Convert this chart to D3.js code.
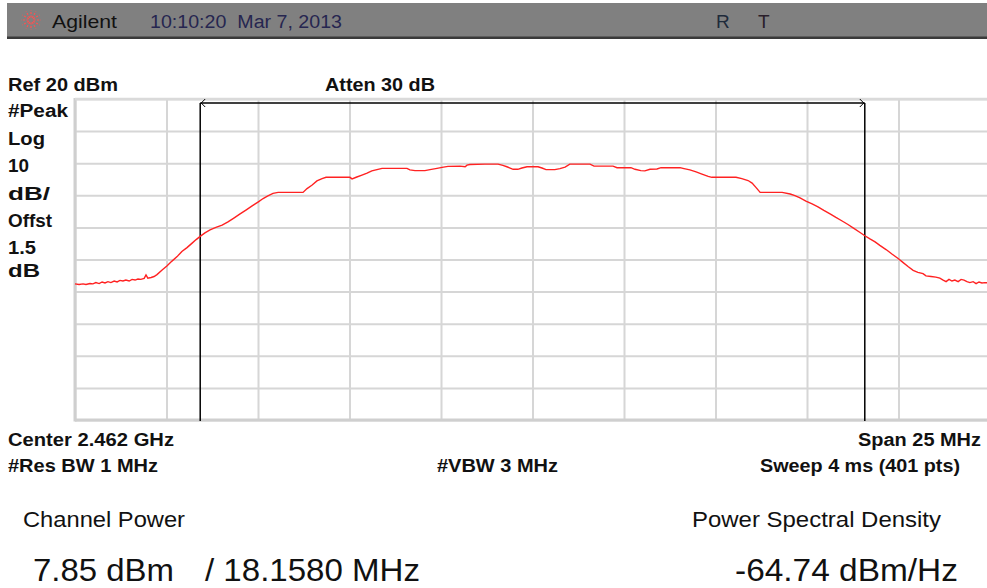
<!DOCTYPE html>
<html><head><meta charset="utf-8">
<script src="https://cdn.jsdelivr.net/npm/d3@7"></script>
<style>
html,body{margin:0;padding:0;background:#fff;}
svg{display:block;font-family:"Liberation Sans",Arial,sans-serif;}
</style></head>
<body>
<svg id="c" width="987" height="588"></svg>
<script>
// ---- data ----
const centerGHz = 2.462;
const spanMHz = 25;
const refLevel = 20;       // dBm
const dbPerDiv = 10;
const channelBW = 18.158;  // MHz
const freqOffsetMHz = [-12.50,-12.39,-12.28,-12.20,-12.09,-12.01,-11.93,-11.84,-11.76,-11.68,-11.60,-11.52,-11.43,-11.35,-11.27,-11.19,-11.11,-11.02,-10.94,-10.86,-10.78,-10.70,-10.61,-10.56,-10.51,-10.42,-10.34,-10.26,-10.12,-9.99,-9.85,-9.71,-9.58,-9.44,-9.30,-9.19,-9.08,-8.95,-8.81,-8.65,-8.48,-8.32,-8.16,-7.99,-7.83,-7.66,-7.50,-7.36,-7.23,-7.09,-6.95,-6.63,-6.27,-6.16,-6.02,-5.89,-5.75,-5.64,-5.26,-4.99,-4.93,-4.80,-4.66,-4.52,-4.39,-4.25,-4.11,-3.76,-3.43,-3.35,-3.21,-2.94,-2.80,-2.61,-2.47,-2.31,-1.98,-1.84,-1.79,-1.71,-1.30,-0.94,-0.81,-0.70,-0.53,-0.40,-0.29,-0.15,0.15,0.26,0.37,0.61,0.75,0.89,1.02,1.30,1.57,1.68,1.98,2.20,2.31,2.69,2.80,2.96,3.07,3.21,3.40,3.51,3.76,4.03,4.14,4.30,4.47,4.63,4.80,4.90,5.26,5.56,5.72,5.89,6.00,6.11,6.22,6.49,6.82,7.04,7.17,7.31,7.47,7.64,7.80,7.96,8.13,8.29,8.46,8.62,8.78,8.95,9.08,9.22,9.36,9.49,9.66,9.82,9.99,10.12,10.26,10.40,10.53,10.67,10.75,10.89,11.02,11.13,11.22,11.30,11.38,11.46,11.54,11.63,11.71,11.79,11.87,11.95,12.04,12.12,12.20,12.28,12.36,12.45,12.50];
const levelDbm = [-37.6,-37.8,-37.6,-37.8,-37.5,-37.6,-37.2,-37.5,-37.0,-37.3,-36.9,-37.2,-36.7,-37.0,-36.5,-36.7,-36.4,-36.7,-36.2,-36.4,-36.1,-36.2,-35.9,-34.8,-35.8,-35.6,-35.3,-34.7,-33.3,-32.0,-30.5,-29.1,-27.5,-26.3,-24.9,-23.8,-22.8,-21.7,-20.8,-20.0,-19.3,-18.3,-17.1,-15.8,-14.6,-13.3,-12.1,-11.0,-10.2,-9.4,-9.1,-9.1,-9.1,-7.9,-6.8,-5.5,-4.8,-4.4,-4.4,-4.4,-4.9,-4.3,-3.7,-3.1,-2.4,-2.0,-1.6,-1.6,-1.6,-2.1,-2.3,-2.3,-2.0,-1.6,-1.3,-1.0,-0.9,-1.1,-0.6,-0.4,-0.3,-0.3,-0.7,-1.1,-1.9,-1.9,-1.5,-1.1,-1.1,-1.5,-2.0,-2.0,-1.7,-1.2,-0.3,-0.3,-0.3,-0.9,-0.9,-0.9,-1.4,-1.4,-1.9,-2.3,-2.4,-1.9,-1.8,-1.4,-1.4,-1.4,-1.7,-2.1,-2.7,-3.4,-4.1,-4.4,-4.4,-4.4,-4.8,-5.4,-6.2,-7.6,-9.1,-9.1,-9.1,-9.6,-10.1,-10.8,-11.8,-12.7,-13.6,-14.7,-15.8,-16.9,-18.0,-19.1,-20.3,-21.6,-22.6,-23.6,-24.5,-25.6,-26.9,-28.3,-29.7,-30.9,-32.2,-33.4,-34.0,-34.4,-35.1,-35.3,-35.5,-35.8,-36.4,-36.9,-36.2,-36.7,-36.4,-36.9,-36.2,-36.4,-36.9,-37.2,-36.9,-37.5,-37.0,-37.3,-37.2,-37.3,-37.2];
const xGridMHz = [-12.5,-10,-7.5,-5,-2.5,0,2.5,5,7.5,10,12.5];
const yGridDbm = [20,10,0,-10,-20,-30,-40,-50,-60,-70,-80];
const leftLabels = ["#Peak","Log","10","dB/","Offst","1.5","dB"];
const headerBrand = "Agilent";
const headerTime = "10:10:20  Mar 7, 2013";
const headerFlags = ["R","T"];
const topLabels = ["Ref 20 dBm","Atten 30 dB"];
const bottomLabels = ["Center 2.462 GHz","Span 25 MHz","#Res BW 1 MHz","#VBW 3 MHz","Sweep 4 ms (401 pts)"];
const resultTitles = ["Channel Power","Power Spectral Density"];
const resultValues = ["7.85 dBm","/ 18.1580 MHz","-64.74 dBm/Hz"];

// ---- layout ----
const svg = d3.select("#c");
const P = {l:75, t:99, r:990, b:420};
const x = d3.scaleLinear().domain([-spanMHz/2, spanMHz/2]).range([P.l, P.r]);
const y = d3.scaleLinear().domain([refLevel - 10*dbPerDiv, refLevel]).range([P.b, P.t]);

// header bar
svg.append("rect").attr("x",7).attr("y",3).attr("width",980).attr("height",35).attr("fill","#808080");
svg.append("rect").attr("x",7).attr("y",36.5).attr("width",980).attr("height",2.5).attr("fill","#3a3a3a");
// logo starburst
const logo = svg.append("g").attr("transform","translate(31,20)");
d3.range(12).forEach(i=>{
  const a = i*Math.PI/6;
  logo.append("line").attr("x1",Math.cos(a)*2.5).attr("y1",Math.sin(a)*2.5)
    .attr("x2",Math.cos(a)*10).attr("y2",Math.sin(a)*10)
    .attr("stroke","#ff5050").attr("stroke-width",1.2).attr("stroke-dasharray","2,1.5");
});
svg.append("text").attr("x",52).attr("y",28).attr("font-size",19).attr("fill","#111")
  .attr("textLength",65).attr("lengthAdjust","spacingAndGlyphs").text(headerBrand);
svg.append("text").attr("x",150).attr("y",28).attr("font-size",18).attr("fill","#262650")
  .attr("xml:space","preserve").style("white-space","pre")
  .attr("textLength",192).attr("lengthAdjust","spacingAndGlyphs").text(headerTime);
svg.append("text").attr("x",716).attr("y",28).attr("font-size",19).attr("fill","#1e2a3a").text(headerFlags[0]);
svg.append("text").attr("x",758).attr("y",28).attr("font-size",19).attr("fill","#2a1e2a").text(headerFlags[1]);

// plot background and grid
svg.append("rect").attr("x",P.l).attr("y",P.t).attr("width",P.r-P.l).attr("height",P.b-P.t).attr("fill","#fff");
const gx = svg.append("g").attr("transform",`translate(0,${P.b})`)
  .call(d3.axisBottom(x).tickValues(xGridMHz).tickSize(-(P.b-P.t)).tickFormat(""));
const gy = svg.append("g").attr("transform",`translate(${P.l},0)`)
  .call(d3.axisLeft(y).tickValues(yGridDbm).tickSize(-(P.r-P.l)).tickFormat(""));
[gx,gy].forEach(g=>{
  g.select(".domain").remove();
  g.selectAll(".tick line").attr("stroke","#d6d6d6").attr("stroke-width",2);
});
// border emphasis
svg.append("line").attr("x1",P.l).attr("x2",P.l).attr("y1",P.t-1).attr("y2",P.b+1.5).attr("stroke","#cfcfcf").attr("stroke-width",3);
svg.append("line").attr("x1",P.l).attr("x2",P.r).attr("y1",P.b).attr("y2",P.b).attr("stroke","#cfcfcf").attr("stroke-width",3);
svg.append("line").attr("x1",P.l).attr("x2",P.r).attr("y1",P.t).attr("y2",P.t).attr("stroke","#dadada").attr("stroke-width",2.5);

// channel markers
const mL = x(-channelBW/2), mR = x(channelBW/2), mY = P.t + 4;
svg.append("line").attr("x1",mL).attr("x2",mL).attr("y1",mY).attr("y2",P.b+1).attr("stroke","#000").attr("stroke-width",1.5);
svg.append("line").attr("x1",mR).attr("x2",mR).attr("y1",mY).attr("y2",P.b+1).attr("stroke","#000").attr("stroke-width",1.5);
svg.append("line").attr("x1",mL).attr("x2",mR).attr("y1",mY).attr("y2",mY).attr("stroke","#000").attr("stroke-width",1.3);
svg.append("path").attr("d",`M${mL+5},${mY-4} L${mL+1},${mY} L${mL+5},${mY+4}`).attr("fill","none").attr("stroke","#000").attr("stroke-width",1);
svg.append("path").attr("d",`M${mR-5},${mY-4} L${mR-1},${mY} L${mR-5},${mY+4}`).attr("fill","none").attr("stroke","#000").attr("stroke-width",1);

// trace
const pts = freqOffsetMHz.map((f,i)=>[f, levelDbm[i]]);
svg.append("path").datum(pts)
  .attr("d", d3.line().x(d=>x(d[0])).y(d=>y(d[1])))
  .attr("fill","none").attr("stroke","#ff2222").attr("stroke-width",1.4);

// left labels
const bold = (t,xx,yy,w,fs)=>svg.append("text").attr("x",xx).attr("y",yy).attr("font-size",fs||18)
  .attr("font-weight","bold").attr("fill","#111").attr("textLength",w).attr("lengthAdjust","spacingAndGlyphs").text(t);
bold(topLabels[0],8,91,110);
bold(topLabels[1],325,91,110);
const leftW = [60,37,21,42,44,28,32];
const leftY = [117,145,172,200,227,254,277];
leftLabels.forEach((t,i)=>bold(t,8,leftY[i],leftW[i]));

// bottom labels
bold(bottomLabels[0],8,446,166);
bold(bottomLabels[1],858,446,123);
bold(bottomLabels[2],8,472,150);
bold(bottomLabels[3],437,472,121);
bold(bottomLabels[4],760,472,200);

// results
const reg = (t,xx,yy,w,fs)=>svg.append("text").attr("x",xx).attr("y",yy).attr("font-size",fs)
  .attr("fill","#111").attr("textLength",w).attr("lengthAdjust","spacingAndGlyphs").text(t);
reg(resultTitles[0],23,527,162,22);
reg(resultTitles[1],692,527,249,22);
reg(resultValues[0],33,581,141,31);
reg(resultValues[1],205,581,215,31);
reg(resultValues[2],735,581,223,31);
</script>
</body></html>
